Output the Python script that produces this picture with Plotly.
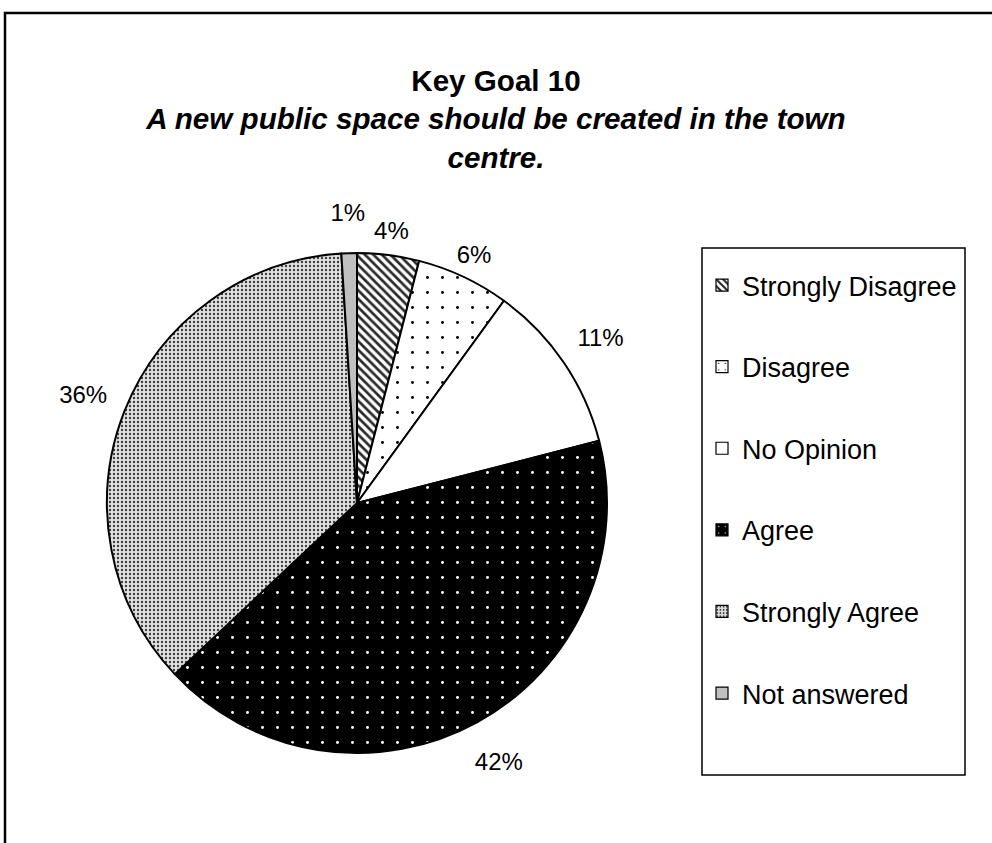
import plotly.graph_objects as go

# Survey responses for Key Goal 10
categories = ["Strongly Disagree", "Disagree", "No Opinion", "Agree", "Strongly Agree", "Not answered"]
percentages = [4, 6, 11, 42, 36, 1]

title_main = "Key Goal 10"
title_sub = ["A new public space should be created in the town", "centre."]

# Fill styles (background colour, pattern shape / colour / tile size / solidity)
bg_colors = ["#ffffff", "#ffffff", "#ffffff", "#000000", "#e2e2e2", "#c0c0c0"]
fg_colors = ["#2a2a2a", "#000000", "#000000", "#ffffff", "#3c3c3c", "#c0c0c0"]
pat_shapes = ["\\", ".", "", ".", ".", ""]
pat_sizes = [6, 15, 8, 15, 4, 8]
pat_solid = [0.45, 0.03, 0.3, 0.03, 0.28, 0.3]

FONT = "Liberation Sans, Arial, sans-serif"
W, H = 992, 843
CX, CY, R = 357, 503, 250
SMALL = 10           # slices below this share the tighter label ring
R_LABEL_SMALL = 300  # outer edge of the label ring for narrow slices
R_LABEL_LARGE = 339  # outer edge of the label ring for wide slices


def domain(radius):
    return dict(x=[(CX - radius) / W, (CX + radius) / W],
                y=[(H - CY - radius) / H, (H - CY + radius) / H])


pattern = dict(shape=pat_shapes, fgcolor=fg_colors, bgcolor=bg_colors,
               size=pat_sizes, solidity=pat_solid, fillmode="replace", fgopacity=1)

fig = go.Figure()

# the pie itself
fig.add_trace(go.Pie(
    labels=categories, values=percentages, sort=False,
    direction="clockwise", rotation=0,
    marker=dict(colors=bg_colors, line=dict(color="black", width=2), pattern=pattern),
    textinfo="none", showlegend=False, domain=domain(R),
))


# percentage labels: transparent rings around the pie, text centred in each segment
def label_ring(outer, keep):
    fig.add_trace(go.Pie(
        labels=categories, values=percentages, sort=False,
        direction="clockwise", rotation=0, hole=R / outer,
        marker=dict(colors=["rgba(0,0,0,0)"] * len(categories), line=dict(width=0)),
        text=[f"{v}%" if keep(v) else "" for v in percentages],
        textinfo="text", textposition="inside", insidetextorientation="horizontal",
        textfont=dict(family=FONT, size=24, color="black"),
        hoverinfo="skip", showlegend=False, domain=domain(outer),
    ))


label_ring(R_LABEL_SMALL, lambda v: v < SMALL)
label_ring(R_LABEL_LARGE, lambda v: v >= SMALL)

# legend entries with the same fills
for i, name in enumerate(categories):
    fig.add_trace(go.Bar(
        x=[None], y=[None], name=name, legendgroup=name, showlegend=True,
        hoverinfo="skip",
        marker=dict(color=bg_colors[i], line=dict(color="black", width=1.2),
                    pattern=dict(shape=pat_shapes[i], fgcolor=fg_colors[i],
                                 bgcolor=bg_colors[i], size=min(pat_sizes[i], 8),
                                 solidity=pat_solid[i], fillmode="replace", fgopacity=1)),
    ))

title_text = (f"<b>{title_main}</b><br>"
              + "<br>".join(f"<b><i>{t}</i></b>" for t in title_sub))

fig.update_layout(
    width=W, height=H,
    margin=dict(l=0, r=0, t=0, b=0),
    paper_bgcolor="white", plot_bgcolor="white",
    font=dict(family=FONT, color="black"),
    uniformtext=dict(minsize=24, mode="show"),
    title=dict(text=title_text, x=0.5, xanchor="center", xref="paper",
               y=1 - 91 / H, yref="paper", yanchor="top",
               font=dict(family=FONT, size=29.6, color="black")),
    xaxis=dict(visible=False), yaxis=dict(visible=False),
    legend=dict(x=702 / W, y=1 - 261 / H, xanchor="left", yanchor="top",
                font=dict(family=FONT, size=27, color="black"),
                bgcolor="rgba(0,0,0,0)", borderwidth=0,
                tracegroupgap=43.5, itemclick=False, itemdoubleclick=False),
    shapes=[
        # outer chart frame
        dict(type="rect", xref="paper", yref="paper",
             x0=5 / W, x1=1.05, y0=-0.05, y1=1 - 13 / H,
             line=dict(color="black", width=2.5), fillcolor="rgba(0,0,0,0)", layer="below"),
        # legend box
        dict(type="rect", xref="paper", yref="paper",
             x0=702 / W, x1=965 / W, y0=1 - 775 / H, y1=1 - 248 / H,
             line=dict(color="black", width=1.5), fillcolor="rgba(0,0,0,0)", layer="below"),
    ],
)

fig.write_html("out.html")
